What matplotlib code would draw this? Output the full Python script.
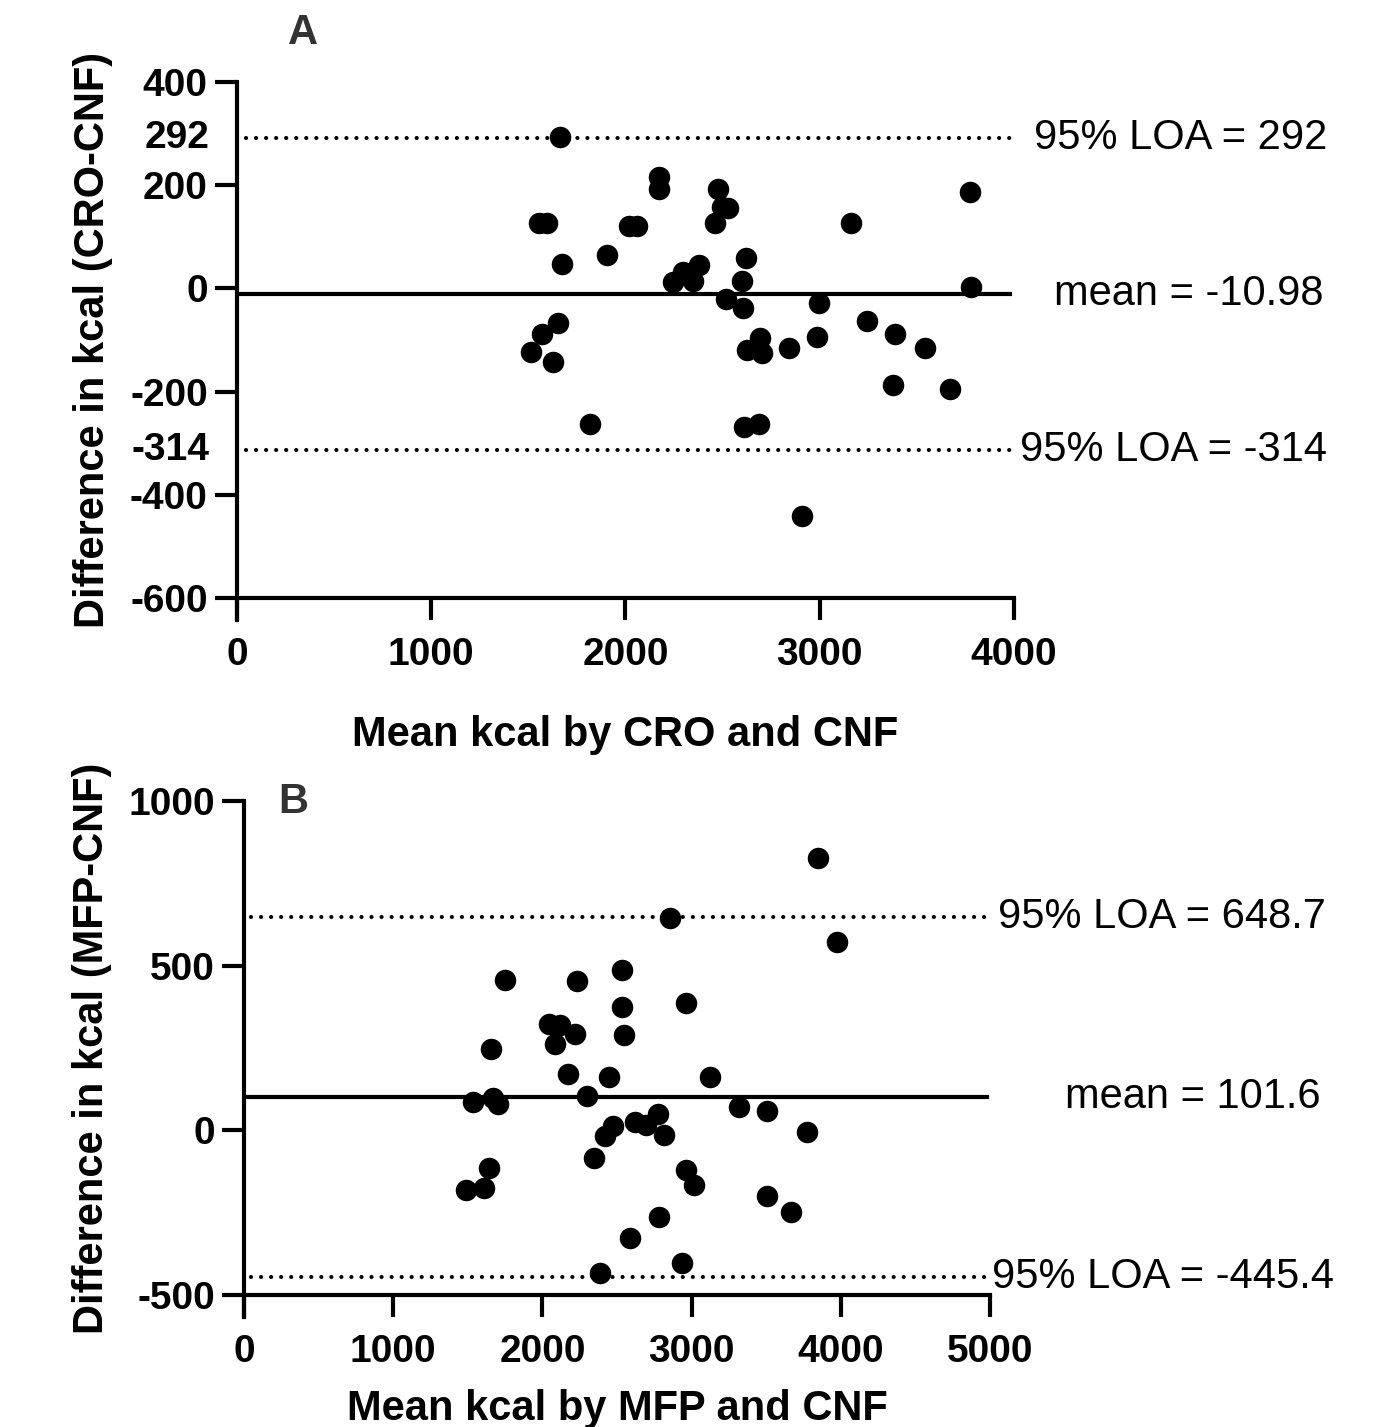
import numpy as np
import matplotlib.pyplot as plt
from matplotlib.transforms import blended_transform_factory

plt.rcParams['font.family'] = ['Liberation Sans', 'DejaVu Sans']
plt.rcParams['axes.unicode_minus'] = False

# panel A : CRO vs CNF
cro_mean = [1663, 2174, 2174, 2475, 2529, 2495, 2462, 1555, 1594, 2020,
            2061, 3159, 3773, 1906, 1675, 2620, 2380, 2298, 2246, 2346,
            2600, 3777, 2517, 2603, 2996, 1654, 1570, 1512, 1628, 3243,
            3387, 3540, 2984, 2842, 2694, 2627, 2701, 3375, 3670, 1817,
            2612, 2689, 2909]
cro_diff = [294, 216, 192, 193, 155, 158, 127, 126, 126, 120,
            120, 127, 187, 65, 47, 58, 45, 32, 12, 14,
            14, 2, -20, -38, -29, -68, -88, -124, -142, -63,
            -89, -115, -95, -115, -96, -119, -126, -188, -195, -263,
            -268, -263, -441]
cro_bias = -10.98
cro_loa = [292, -314]

# panel B : MFP vs CNF
mfp_mean = [3849, 2855, 3972, 1749, 2230, 2533, 2531, 2547, 2962, 2044,
            2118, 2218, 2084, 1655, 2169, 2446, 3121, 2297, 1537, 1671,
            1700, 3318, 3505, 3773, 2777, 2621, 2694, 2471, 2420, 2817,
            2346, 1644, 2960, 3016, 1488, 1609, 3507, 3664, 2779, 2587,
            2934, 2386]
mfp_diff = [826, 644, 573, 456, 454, 487, 375, 289, 386, 323,
            320, 291, 261, 247, 170, 163, 162, 105, 85, 99,
            79, 72, 59, -4, 50, 24, 16, 13, -17, -14,
            -83, -115, -121, -166, -181, -176, -200, -247, -262, -326,
            -402, -434]
mfp_bias = 101.6
mfp_loa = [648.7, -445.4]

fig = plt.figure(figsize=(13.9, 14.27), dpi=100)
axA = fig.add_axes([237/1390, 1-598/1427, (1014-237)/1390, (598-82)/1427])
axB = fig.add_axes([244/1390, 1-1295/1427, (990-244)/1390, (1295-801)/1427])

tick_font = dict(fontsize=28, fontweight='bold')
lab_font = dict(fontsize=30, fontweight='bold')
txt_font = dict(fontsize=30)


def style(ax):
    for s in ['top', 'right']:
        ax.spines[s].set_visible(False)
    for s in ['left', 'bottom']:
        ax.spines[s].set_linewidth(3)
    ax.tick_params(width=3, length=16, pad=5, labelsize=28)
    ax.tick_params(axis='x', pad=12)
    for lab in ax.get_xticklabels() + ax.get_yticklabels():
        lab.set_fontweight('bold')


def bland(ax, xs, ys, bias, loa, x0, xmax):
    ax.scatter(xs, ys, s=240, color='black', zorder=3, linewidths=0)
    ax.plot([0, xmax], [bias, bias], color='black', lw=3, zorder=2)
    for v in loa:
        ax.plot([x0, xmax], [v, v], color='black', lw=3,
                linestyle=(0, (0.01, 2.4)), dash_capstyle='round', zorder=2)


# ---- A ----
bland(axA, cro_mean, cro_diff, cro_bias, cro_loa, 45, 3980)
axA.set_xlim(0, 4000)
axA.set_ylim(-600, 400)
axA.set_xticks([0, 1000, 2000, 3000, 4000])
axA.set_yticks([-600, -400, -200, 0, 200, 400])
style(axA)
axA.spines['left'].set_bounds(-643, 400)
tr = blended_transform_factory(axA.transAxes, axA.transData)
for v in cro_loa:
    axA.text(-0.036, v, '%d' % v, transform=tr, ha='right', va='center', **tick_font)
axA.set_xlabel('Mean kcal by CRO and CNF', labelpad=30, **lab_font)
axA.set_ylabel('Difference in kcal (CRO-CNF)', labelpad=12, **lab_font)
axA.text(4860, cro_loa[0], '95%% LOA = %d' % cro_loa[0], ha='center', va='center', clip_on=False, **txt_font)
axA.text(4900, cro_bias, 'mean = %.2f' % cro_bias, ha='center', va='center', clip_on=False, **txt_font)
axA.text(4820, cro_loa[1], '95%% LOA = %d' % cro_loa[1], ha='center', va='center', clip_on=False, **txt_font)

# ---- B ----
bland(axB, mfp_mean, mfp_diff, mfp_bias, mfp_loa, 50, 4980)
axB.set_xlim(0, 5000)
axB.set_ylim(-500, 1000)
axB.set_xticks([0, 1000, 2000, 3000, 4000, 5000])
axB.set_yticks([-500, 0, 500, 1000])
style(axB)
axB.spines['left'].set_bounds(-567, 1000)
axB.set_xlabel('Mean kcal by MFP and CNF', labelpad=14, **lab_font)
axB.set_ylabel('Difference in kcal (MFP-CNF)', labelpad=12, **lab_font)
axB.text(6150, mfp_loa[0], '95%% LOA = %.1f' % mfp_loa[0], ha='center', va='center', clip_on=False, **txt_font)
axB.text(6360, mfp_bias, 'mean = %.1f' % mfp_bias, ha='center', va='center', clip_on=False, **txt_font)
axB.text(6160, mfp_loa[1], '95%% LOA = %.1f' % mfp_loa[1], ha='center', va='center', clip_on=False, **txt_font)

fig.text(303/1390, 1-33/1427, 'A', ha='center', va='center', fontsize=30, fontweight='bold', color='#333333')
fig.text(293/1390, 1-802/1427, 'B', ha='center', va='center', fontsize=30, fontweight='bold', color='#333333')

plt.savefig('out.png', dpi=100)
